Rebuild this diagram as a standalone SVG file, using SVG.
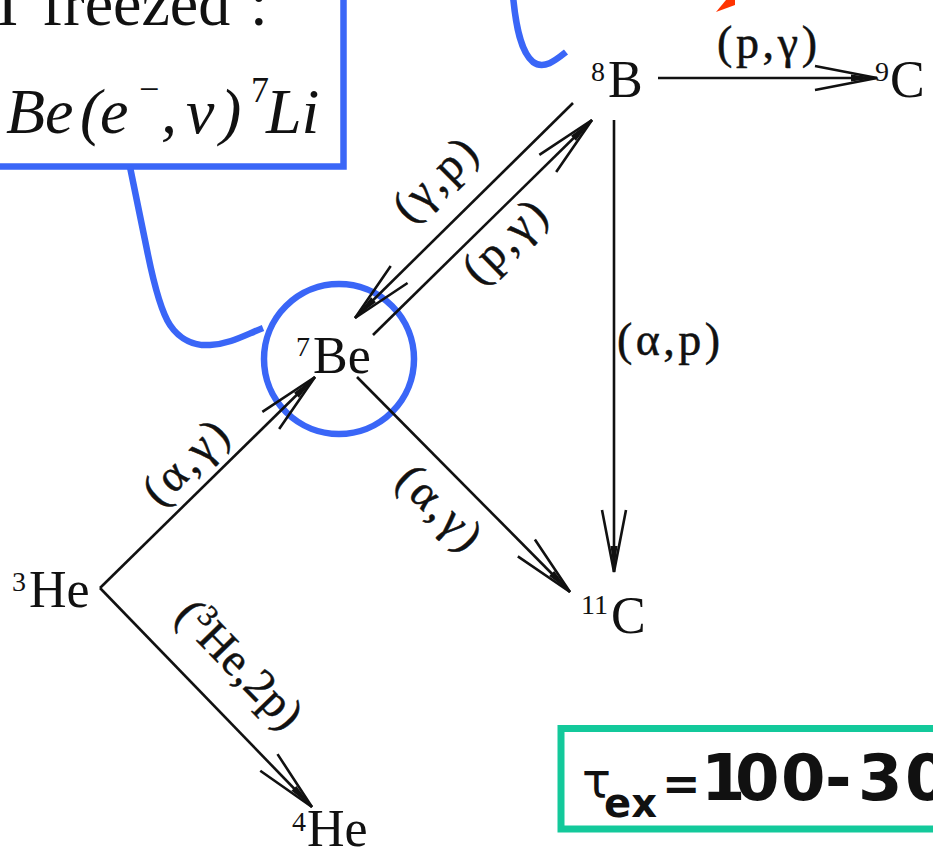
<svg xmlns="http://www.w3.org/2000/svg" width="933" height="850" viewBox="0 0 933 850">
<style>
.bg{fill:#ffffff}
.nuc{font-family:"Liberation Serif",serif;font-size:52px;fill:#111}
.sup{font-size:28px}
.lbl{font-family:"Liberation Serif",serif;font-size:46px;fill:#111;stroke:#111;stroke-width:0.5}
.edge{fill:none;stroke:#111;stroke-width:2.6;marker-end:url(#ah)}
.blue{fill:none;stroke:#3a66f7;stroke-width:6.5}
.note{font-family:"Liberation Serif",serif;font-size:64px;fill:#111}
.tau{font-family:"DejaVu Sans",sans-serif;fill:#111}
</style>
<defs>
<marker id="ah" markerUnits="userSpaceOnUse" markerWidth="80" markerHeight="40" viewBox="-70 -20 80 40" refX="0" refY="0" orient="auto" overflow="visible">
<path d="M-62,-12 L0,0 L-62,12" fill="none" stroke="#111" stroke-width="2.6"/>
<path d="M-26,-3.5 L0,0 L-26,3.5 Z" fill="#111"/>
</marker>
</defs>
<rect class="bg" x="0" y="0" width="933" height="850"/>

<g id="note-box">
<rect class="blue" x="-20" y="-20" width="363.5" height="186.5"/>
<text class="note" y="25"><tspan x="-3">I</tspan><tspan x="42">freezed</tspan><tspan x="250">:</tspan></text>
<text class="note" y="133" font-style="italic"><tspan x="6">Be</tspan><tspan x="80">(</tspan><tspan x="100">e</tspan><tspan x="139" y="101" font-size="36" font-style="normal">−</tspan><tspan x="161" y="133">,</tspan><tspan x="186">ν</tspan><tspan x="220">)</tspan><tspan x="251" y="102" font-size="36" font-style="normal">7</tspan><tspan x="266" y="133">Li</tspan></text>
</g>

<g id="callouts">
<path class="blue" d="M130,167 L147,250 C153,280 160,310 170,325 C180,340 195,346 210,345 C230,344 245,335 263,328"/>
<circle class="blue" cx="339" cy="359" r="75"/>
<path class="blue" d="M513,-4 C516,28 521,52 533,62 C544,70 556,60 566,52"/>
<polygon points="716,12 726,0 735,0 735,5" fill="#ff3300"/>
</g>

<g id="connectors">
<path class="edge" d="M658,78 L877,78"/>
<path class="edge" d="M573,103 L355,318"/>
<path class="edge" d="M373,335 L592,120"/>
<path class="edge" d="M614,120 L614,572"/>
<path class="edge" d="M100,588 L315,377"/>
<path class="edge" d="M100,588 L312,807"/>
<path class="edge" d="M357,377 L570,592"/>
<text class="lbl" x="767" y="58" text-anchor="middle" textLength="100" lengthAdjust="spacing">(p,γ)</text>
<text class="lbl" x="617" y="355" textLength="103" lengthAdjust="spacing">(α,p)</text>
<text class="lbl" transform="translate(437.5,182) rotate(-44.6)" x="0" y="11" text-anchor="middle" textLength="98" lengthAdjust="spacing">(γ,p)</text>
<text class="lbl" transform="translate(507,244) rotate(-44.5)" x="0" y="11" text-anchor="middle" textLength="98" lengthAdjust="spacing">(p,γ)</text>
<text class="lbl" transform="translate(188,465) rotate(-44.5)" x="0" y="11" text-anchor="middle" textLength="100" lengthAdjust="spacing">(α,γ)</text>
<text class="lbl" transform="translate(437,510) rotate(45.3)" x="0" y="11" text-anchor="middle" textLength="100" lengthAdjust="spacing">(α,γ)</text>
<text class="lbl" transform="translate(237,667) rotate(45.9)" x="0" y="11" text-anchor="middle" textLength="160" lengthAdjust="spacing">(<tspan font-size="30" dy="-16">3</tspan><tspan dy="16">He,2p)</tspan></text>
</g>

<g id="n-8B"><text class="nuc"><tspan class="sup" x="591" y="81">8</tspan><tspan x="608" y="97">B</tspan></text></g>
<g id="n-9C"><text class="nuc"><tspan class="sup" x="875" y="81">9</tspan><tspan x="890" y="97">C</tspan></text></g>
<g id="n-7Be"><text class="nuc"><tspan class="sup" x="296" y="356">7</tspan><tspan x="313" y="373">Be</tspan></text></g>
<g id="n-3He"><text class="nuc"><tspan class="sup" x="12" y="591">3</tspan><tspan x="29" y="607">He</tspan></text></g>
<g id="n-4He"><text class="nuc"><tspan class="sup" x="292" y="831">4</tspan><tspan x="307" y="846">He</tspan></text></g>
<g id="n-11C"><text class="nuc"><tspan class="sup" x="581" y="614">11</tspan><tspan x="611" y="633">C</tspan></text></g>

<g id="tau-box">
<rect x="561" y="728.5" width="400" height="100.5" fill="none" stroke="#13c99b" stroke-width="7"/>
<text class="tau"><tspan x="582" y="797" font-size="48">τ</tspan><tspan x="604" y="817" font-size="40" font-weight="bold">ex</tspan><tspan x="662" y="800" font-size="46" font-weight="bold">=</tspan><tspan x="701 735 781 825 858 905" y="800" font-size="64" font-weight="bold">100-30</tspan></text>
</g>
</svg>
